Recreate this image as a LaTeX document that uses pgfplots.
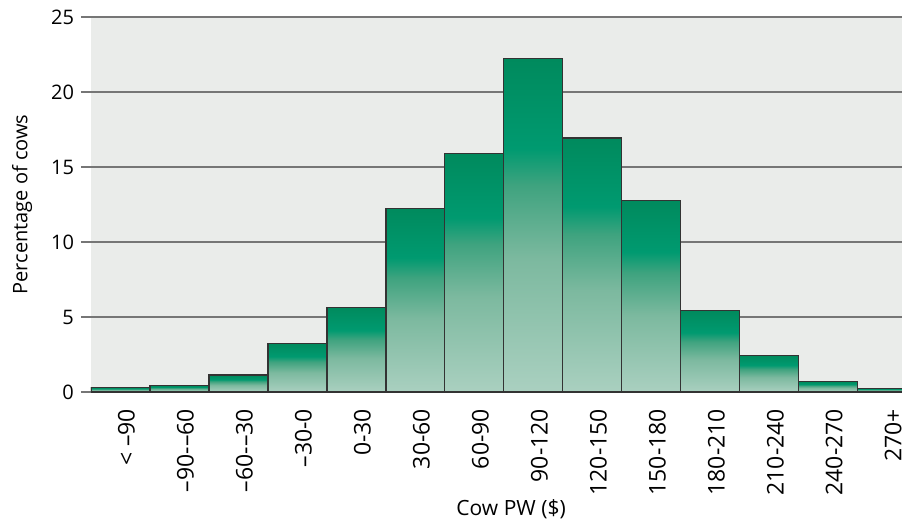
\documentclass[border=0pt]{standalone}
\usepackage{pgfplots}
\pgfplotsset{compat=1.18}
\usepackage{fontspec}
\setmainfont{Open Sans}

\definecolor{bgcol}{HTML}{EAECEA}
\definecolor{gridcol}{HTML}{767676}
\definecolor{barline}{HTML}{333333}
\definecolor{bartop}{HTML}{008A5D}
\definecolor{barmid}{HTML}{009A70}
\definecolor{barsoft}{HTML}{3FA37F}
\definecolor{barpale}{HTML}{7CB99F}
\definecolor{barlow}{HTML}{AAD0C0}

% bar box maps to 25bp (bottom) .. 75bp (top)
\pgfdeclareverticalshading{barshade}{100bp}{%
  color(0bp)=(barlow); color(25bp)=(barlow); color(45bp)=(barpale);
  color(56bp)=(barsoft); color(61.5bp)=(barmid); color(75bp)=(bartop);
  color(100bp)=(bartop)}

\pgfplotsset{
  cowbar/.style={ybar, bar width=1, bar shift=0pt, draw=barline,
    line width=0.6pt, shading=barshade},
}

\begin{document}
\begin{tikzpicture}
\begin{axis}[
    name=ax,
    scale only axis,
    width=405.5pt, height=187.5pt,
    xmin=-0.5, xmax=13.25,
    ymin=0, ymax=25,
    ytick={0,5,...,25},
    xtick={0,...,13},
    xticklabels={< –90, –90-–60, –60-–30, –30-0, 0-30, 30-60, 60-90,
      90-120, 120-150, 150-180, 180-210, 210-240, 240-270, 270+},
    axis x line*=bottom,
    axis y line*=left,
    x axis line style={draw=barline, line width=1pt},
    y axis line style={draw=none},
    axis background/.style={fill=bgcol},
    ymajorgrids,
    major grid style={draw=gridcol, line width=0.9pt},
    tick align=outside,
    major tick length=5pt,
    xtick style={draw=none},
    ytick style={draw=gridcol, line width=0.9pt},
    /pgf/number format/assume math mode=true,
    xticklabel style={rotate=90, anchor=east, yshift=-3pt,
      font=\fontsize{11.5}{13}\selectfont},
    yticklabel style={font=\fontsize{10}{12}\selectfont},
    ylabel={Percentage of cows},
    xlabel={Cow PW (\$)},
    every axis y label/.style={at={(axis description cs:-0.085,0.5)},
      rotate=90, anchor=center, font=\fontsize{10}{12}\selectfont},
    every axis x label/.style={at={(axis description cs:0.518,-0.312)},
      anchor=center, font=\fontsize{10.5}{12}\selectfont},
  ]
  % one plot per class so that each bar gets its own shading
  \addplot[cowbar] coordinates {(0,0.3)};
  \addplot[cowbar] coordinates {(1,0.42)};
  \addplot[cowbar] coordinates {(2,1.13)};
  \addplot[cowbar] coordinates {(3,3.24)};
  \addplot[cowbar] coordinates {(4,5.64)};
  \addplot[cowbar] coordinates {(5,12.25)};
  \addplot[cowbar] coordinates {(6,15.9)};
  \addplot[cowbar] coordinates {(7,22.22)};
  \addplot[cowbar] coordinates {(8,16.93)};
  \addplot[cowbar] coordinates {(9,12.78)};
  \addplot[cowbar] coordinates {(10,5.42)};
  \addplot[cowbar] coordinates {(11,2.45)};
  \addplot[cowbar] coordinates {(12,0.69)};
  \addplot[cowbar] coordinates {(13,0.25)};
\end{axis}
\pgfresetboundingbox
\path[use as bounding box] ([xshift=-45.5pt,yshift=-65.5pt]ax.south west)
  rectangle ([yshift=8.5pt]ax.north east);
\end{tikzpicture}
\end{document}
